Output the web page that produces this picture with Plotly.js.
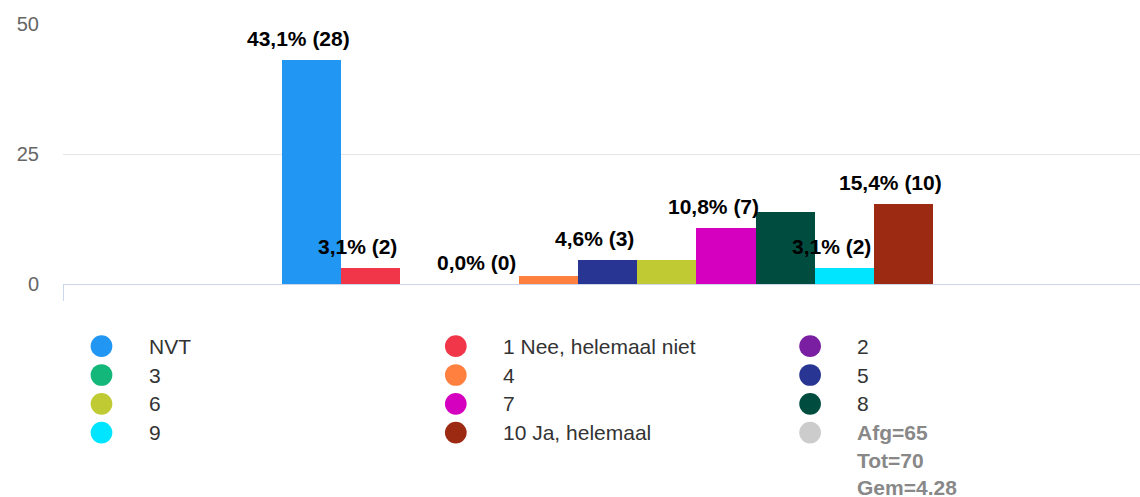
<!DOCTYPE html>
<html>
<head>
<meta charset="utf-8">
<script src="https://cdn.plot.ly/plotly-3.0.1.min.js"></script>
<style>
    html, body { margin: 0; padding: 0; background: #ffffff; }
    #chart { width: 1140px; height: 497px; }
</style>
</head>
<body>
<div id="chart"></div>
<script>
// --- DATA ---
const categories = ['NVT', '1 Nee, helemaal niet', '2', '3', '4', '5', '6', '7', '8', '9', '10 Ja, helemaal'];
const percents = [43.1, 3.1, 0.0, 0.0, 1.5, 4.6, 4.6, 10.8, 13.8, 3.1, 15.4];
const counts = [28, 2, 0, 0, 1, 3, 3, 7, 9, 2, 10];
const labelShown = [true, true, false, true, false, true, false, true, false, true, true];
const colors = ['#2196f3', '#f2364a', '#7b1fa2', '#13b77a', '#ff803f', '#283593',
                '#c0ca33', '#d500bf', '#004d40', '#00e5ff', '#9c2a13'];
const statLines = ['Afg=65', 'Tot=70', 'Gem=4.28'];
const statColor = '#cccccc';
const yTicks = [0, 25, 50];

// --- GEOMETRY (pixels of the 1140x497 picture) ---
const PLOT = { left: 63, top: 24, width: 1077, height: 260 };
const LEGEND = { colX: 101.5, colStep: 354.3, textGap: 45.3, rowY: 346.2, rowStep: 28.8, statStep: 27.5, dot: 21.7 };
const FONT = '"Liberation Sans", Arial, sans-serif';

// pixel -> paper coordinates
function px2x(px) { return (px - PLOT.left) / PLOT.width; }
function px2y(py) { return (PLOT.top + PLOT.height - py) / PLOT.height; }

const xIdx = categories.map((c, i) => i);

// --- DATA LABELS ---
let annotations = [];
xIdx.forEach(i => {
    if (!labelShown[i]) return;
    annotations.push({
        x: i, y: percents[i], xref: 'x', yref: 'y',
        text: percents[i].toFixed(1).replace('.', ',') + '% (' + counts[i] + ')',
        showarrow: false, xanchor: 'center', yanchor: 'middle',
        xshift: -13, yshift: 21.5,
        font: { family: FONT, size: 21, color: '#000000', weight: 'bold' }
    });
});

// --- LEGEND (three columns, circles) ---
let shapes = [];
function legendDot(px, py, color) {
    shapes.push({
        type: 'circle', xref: 'paper', yref: 'paper',
        xsizemode: 'pixel', ysizemode: 'pixel',
        xanchor: px2x(px), yanchor: px2y(py),
        x0: -LEGEND.dot / 2, x1: LEGEND.dot / 2, y0: -LEGEND.dot / 2, y1: LEGEND.dot / 2,
        fillcolor: color, line: { width: 0 }
    });
}
function legendText(px, py, text, font) {
    annotations.push({
        x: px2x(px), y: px2y(py), xref: 'paper', yref: 'paper',
        text: text, showarrow: false, xanchor: 'left', yanchor: 'middle',
        font: font
    });
}

categories.forEach((name, i) => {
    let cx = LEGEND.colX + (i % 3) * LEGEND.colStep;
    let cy = LEGEND.rowY + Math.floor(i / 3) * LEGEND.rowStep;
    legendDot(cx, cy, colors[i]);
    legendText(cx + LEGEND.textGap, cy, name, { family: FONT, size: 21, color: '#333333' });
});

// stats entry sits in the last free slot
let slot = categories.length;
let sx = LEGEND.colX + (slot % 3) * LEGEND.colStep;
let sy = LEGEND.rowY + Math.floor(slot / 3) * LEGEND.rowStep;
legendDot(sx, sy, statColor);
statLines.forEach((line, k) => {
    legendText(sx + LEGEND.textGap, sy + k * LEGEND.statStep, line,
        { family: FONT, size: 21, color: '#888888', weight: 'bold' });
});

// --- PLOT ---
let trace = {
    type: 'bar',
    x: xIdx,
    y: percents,
    width: 1,
    marker: { color: colors, line: { width: 0 } },
    hoverinfo: 'skip',
    showlegend: false
};

// x range so that each bar is ~59 px wide and the group starts at x=282
const barPx = 59.2;
const xLeft = -0.5 - (282 - PLOT.left) / barPx;
const xRight = xLeft + PLOT.width / barPx;

let layout = {
    width: 1140,
    height: 497,
    margin: { l: PLOT.left, r: 1140 - PLOT.left - PLOT.width, t: PLOT.top, b: 497 - PLOT.top - PLOT.height },
    paper_bgcolor: '#ffffff',
    plot_bgcolor: '#ffffff',
    showlegend: false,
    bargap: 0,
    font: { family: FONT, color: '#666666' },
    xaxis: {
        type: 'linear',
        range: [xLeft, xRight],
        showgrid: false,
        zeroline: false,
        showline: true,
        linecolor: '#ccd6eb',
        linewidth: 1,
        ticks: 'outside',
        ticklen: 16,
        tickcolor: '#ccd6eb',
        tickvals: [xLeft],
        showticklabels: false,
        fixedrange: true
    },
    yaxis: {
        range: [0, 50],
        tickvals: yTicks,
        showgrid: true,
        gridcolor: '#e6e6e6',
        gridwidth: 1,
        zeroline: false,
        showline: false,
        ticks: '',
        ticklabelstandoff: 23,
        tickfont: { family: FONT, size: 20, color: '#666666' },
        fixedrange: true
    },
    shapes: shapes,
    annotations: annotations
};

Plotly.newPlot('chart', [trace], layout, { displayModeBar: false, staticPlot: true });
</script>
</body>
</html>
